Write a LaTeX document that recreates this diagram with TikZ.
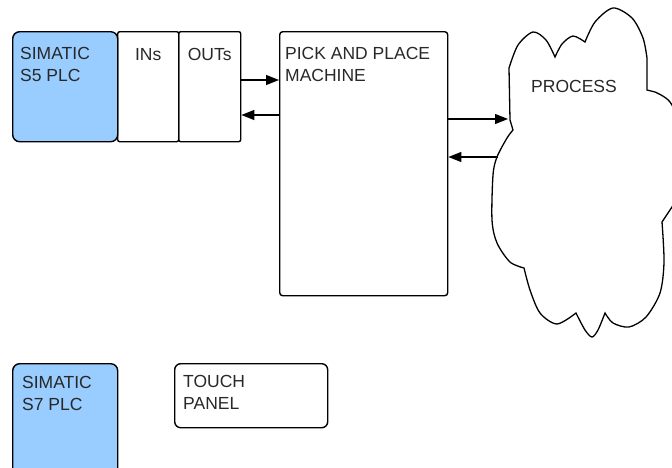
\documentclass[tikz,border=0pt]{standalone}
\usepackage{fontspec}
\setmainfont{Liberation Sans}
\usetikzlibrary{arrows.meta,positioning,calc}
\definecolor{plcblue}{RGB}{153,204,255}
\definecolor{txtgray}{RGB}{40,40,40}

\begin{document}
\begin{tikzpicture}[x=1pt,y=-1pt,
%defines
plc/.style={draw,fill=plcblue,line width=1.4pt,rounded corners=7pt,
minimum width=105pt,anchor=north west,inner sep=0pt},
io/.style={draw,line width=1.4pt,rounded corners=2pt,
minimum width=61pt,minimum height=110pt,anchor=north west,inner sep=0pt},
machine/.style={draw,line width=1.4pt,rounded corners=3pt,anchor=north west,inner sep=0pt},
panel/.style={draw,line width=1.4pt,rounded corners=6pt,anchor=north west,inner sep=0pt},
lbl/.style={inner sep=0pt,align=left,text=txtgray,font=\fontsize{17.5}{22}\selectfont},
link/.style={line width=1.3pt,-{Triangle[length=13pt,width=10pt]}},
cloudline/.style={line width=1.3pt}]
\useasboundingbox (0,0) rectangle (672,467);
\clip (0,0) rectangle (672,467);
%nodes
\node[plc,minimum height=110pt]   (s5)      at (12,31)  {};
\node[io]                         (ins)     at (117,31) {};
\node[io,minimum width=62pt]      (outs)    at (178,31) {};
\node[machine,minimum width=168pt,minimum height=264pt] (pnp) at (279,31) {};
\node[plc,minimum height=120pt]   (s7)      at (12,363) {};
\node[panel,minimum width=153pt,minimum height=64pt]    (touch) at (174,363) {};

\node[lbl] (s5text)    [below right=16pt and 8pt of s5.north west]  {SIMATIC\\S5 PLC};
\node[lbl] (instext)   [below=17pt of ins.north]                    {INs};
\node[lbl] (outstext)  [below=17pt of outs.north]                   {OUTs};
\node[lbl] (pnptext)   [below right=16pt and 6pt of pnp.north west] {PICK AND PLACE\\MACHINE};
\node[lbl] (s7text)    [below right=13pt and 10pt of s7.north west] {SIMATIC\\S7 PLC};
\node[lbl] (touchtext) [below right=12pt and 9pt of touch.north west] {TOUCH\\PANEL};

%cloud
\draw[cloudline] (510,120) -- (509,68)
  -- plot[smooth] coordinates {(509,68) (518,45) (533,32) (546,40) (555,57)}
  -- plot[smooth] coordinates {(555,57) (562,44) (573,36) (585,42)}
  -- plot[smooth] coordinates {(585,42) (595,22) (613,8) (632,18) (643,38) (647,58)}
  -- (647,90) -- (655,92)
  -- plot[smooth] coordinates {(655,92) (670,102) (682,130) (684,180) (672,207)}
  -- (662,222)
  -- plot[smooth] coordinates {(662,222) (664,262) (660,293) (646,317) (629,327) (613,323) (605,313)}
  -- plot[smooth] coordinates {(605,313) (598,330) (592,337) (585,330) (576,313)}
  -- plot[smooth] coordinates {(576,313) (557,324) (540,313) (530,290) (524,268)}
  -- plot[smooth] coordinates {(524,268) (510,262) (497,243) (492,220) (493,175) (497,157) (507,138) (513,130)}
  -- cycle;
\node[lbl] (process) at (574,86) {PROCESS};
\coordinate (cloudin)  at (508,119);
\coordinate (cloudout) at (498,157);
%links
\draw[link] ([yshift=-49pt]outs.north east) -- ([yshift=-49pt]pnp.north west);
\draw[link] ([yshift=-84pt]pnp.north west) -- ([yshift=-84pt]outs.north east);
\draw[link] (pnp.east |- cloudin) -- (cloudin);
\draw[link] (cloudout) -- (pnp.east |- cloudout);
\end{tikzpicture}
\end{document}
